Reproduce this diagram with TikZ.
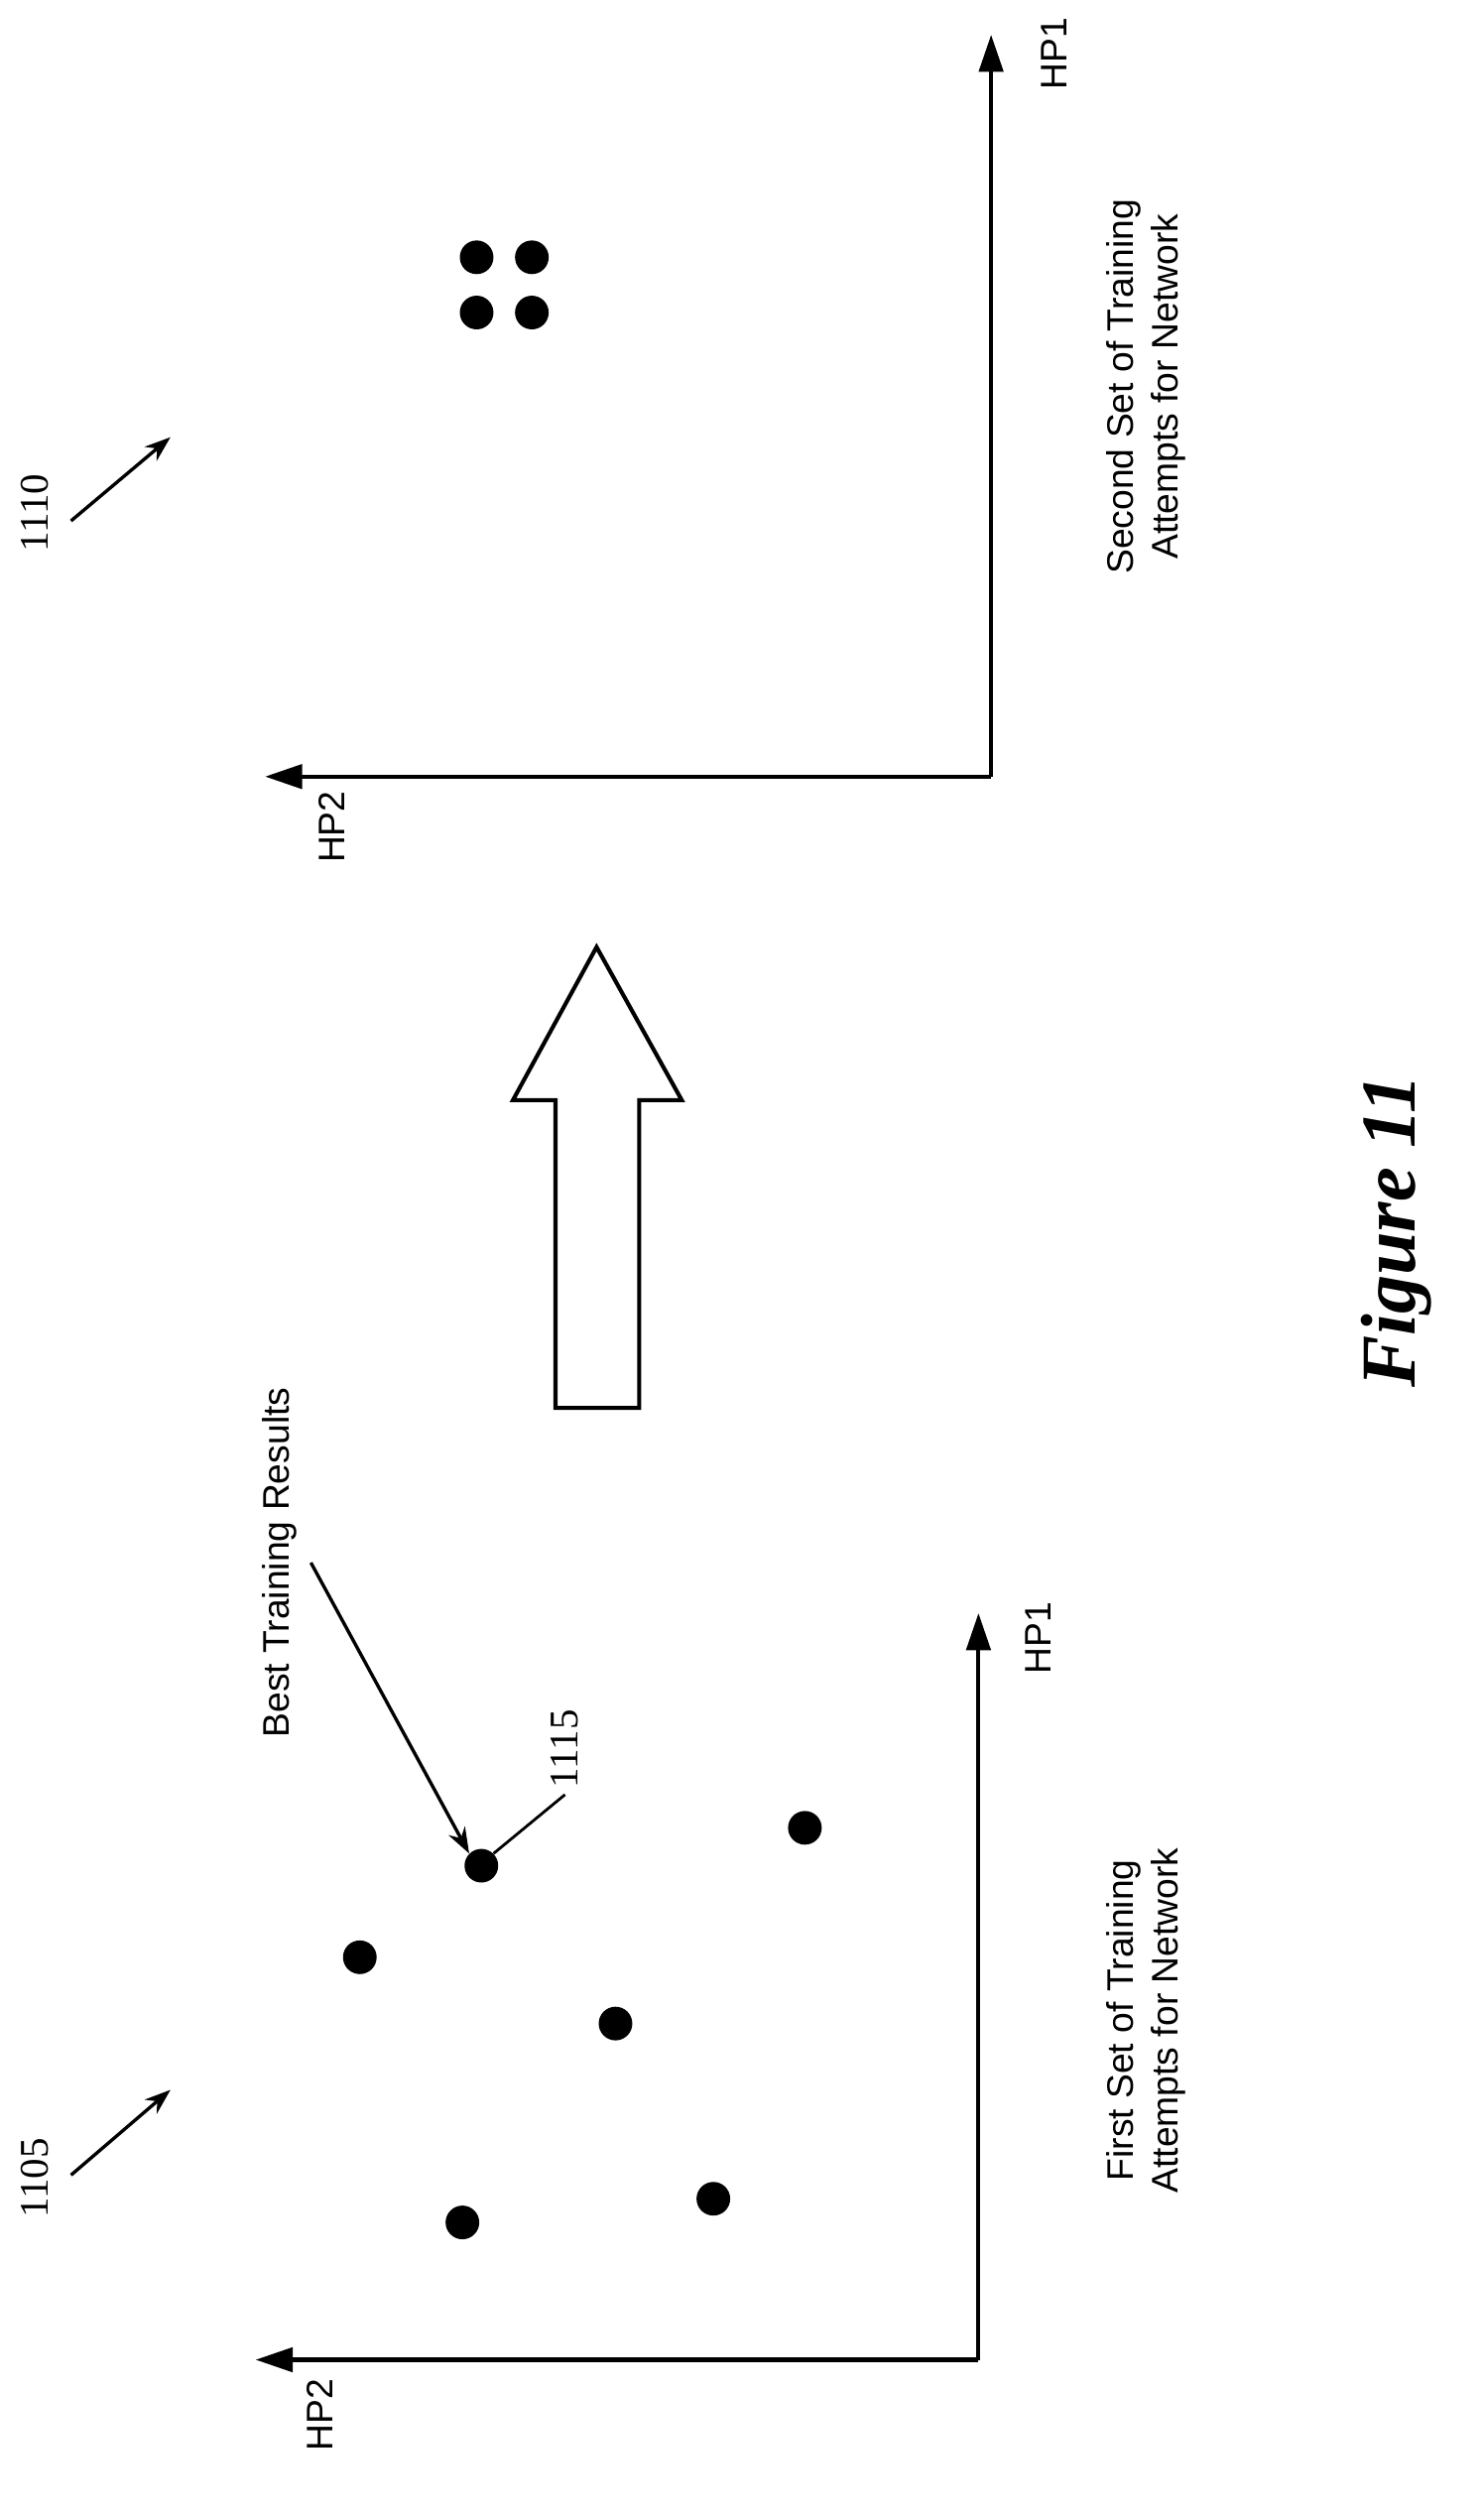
\documentclass[tikz,border=0pt]{standalone}
\usepackage{fontspec}
\setmainfont{Liberation Sans}
\newfontfamily\numfont{Liberation Serif}
\usetikzlibrary{arrows.meta}

\begin{document}
\begin{tikzpicture}[x=0.03cm,y=-0.03cm,
    axis/.style  = {line width=2.2pt,-{Triangle[length=20pt,width=13pt]}},
    pointer/.style = {line width=1.8pt,-{Stealth[length=14pt,width=10pt]}},
    label/.style = {rotate=90,font=\fontsize{20}{24}\selectfont,align=center},
    refnum/.style = {rotate=90,font=\numfont\fontsize{22}{25}\selectfont},
    dot/.style   = {circle,fill=black,inner sep=0pt,minimum size=0.64cm}]
  \useasboundingbox (0,0) rectangle (940,1594);

  % first set of training attempts
  \coordinate (o1) at (620,1495);
  \coordinate (x1) at (620,1022);
  \coordinate (y1) at (162,1495);
  \draw[axis] (o1) -- (x1);
  \draw[axis] (o1) -- (y1);
  \node[label] (hpa1) at (658,1038) {HP1};
  \node[label] (hpa2) at (203,1530) {HP2};
  \node[dot] (d1) at (228,1240) {};
  \node[dot] (best) at (305,1182) {};
  \node[dot] (d3) at (390,1282) {};
  \node[dot] (d4) at (510,1158) {};
  \node[dot] (d5) at (293,1408) {};
  \node[dot] (d6) at (452,1393) {};
  \node[label] (cap1) at (726,1280) {First Set of Training\\Attempts for Network};
  \node[refnum] (n1105) at (22,1380) {1105};
  \coordinate (t1105) at (45,1378);
  \coordinate (h1105) at (108,1324);
  \draw[pointer] (t1105) -- (h1105);
  \node[label] (bestlbl) at (177,990) {Best Training Results};
  \coordinate (tbest) at (197,990);
  \draw[pointer] (tbest) -- (best.north west);
  \node[refnum] (n1115) at (358,1108) {1115};
  \draw[line width=1.5pt] (best.north east) -- (n1115.west);

  % second set of training attempts
  \coordinate (o2) at (628,492);
  \coordinate (x2) at (628,22);
  \coordinate (y2) at (168,492);
  \draw[axis] (o2) -- (x2);
  \draw[axis] (o2) -- (y2);
  \node[label] (hpb1) at (668,34) {HP1};
  \node[label] (hpb2) at (210,524) {HP2};
  \foreach \px/\py [count=\i] in {302/163,337/163,302/198,337/198}
    \node[dot] (q\i) at (\px,\py) {};
  \node[label] (cap2) at (726,245) {Second Set of Training\\Attempts for Network};
  \node[refnum] (n1110) at (22,325) {1110};
  \coordinate (t1110) at (45,330);
  \coordinate (h1110) at (108,277);
  \draw[pointer] (t1110) -- (h1110);

  % transition arrow
  \draw[line width=2.2pt,line join=miter]
    (352,892) -- (352,697) -- (325,697) -- (378,600) -- (432,697)
    -- (405,697) -- (405,892) -- cycle;

  \node[rotate=90,font=\numfont\bfseries\itshape\fontsize{42}{44}\selectfont]
    (fig) at (885,780) {Figure 11};
\end{tikzpicture}
\end{document}
